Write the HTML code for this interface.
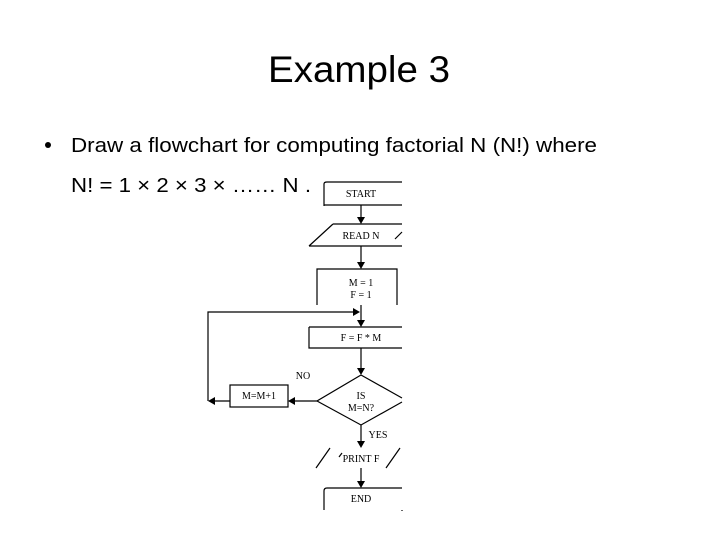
<!DOCTYPE html>
<html><head><style>
html,body{margin:0;padding:0;background:#fff;}
svg{display:block;}
</style></head><body>
<svg width="720" height="540" xmlns="http://www.w3.org/2000/svg">
<text x="359" y="82" font-family="Liberation Sans, sans-serif" font-size="37" text-anchor="middle" textLength="182" lengthAdjust="spacingAndGlyphs" fill="#000">Example 3</text>
<circle cx="48" cy="145" r="3" fill="#000"/>
<text x="71" y="152" font-family="Liberation Sans, sans-serif" font-size="20" textLength="526" lengthAdjust="spacingAndGlyphs" fill="#000">Draw a flowchart for computing factorial N (N!) where</text>
<text x="71" y="192" font-family="Liberation Sans, sans-serif" font-size="20" textLength="240" lengthAdjust="spacingAndGlyphs" fill="#000">N! = 1 × 2 × 3 × …… N .</text>
<g stroke="#000" stroke-width="1.2" fill="none">
<path d="M324 206 V184 Q324 182 327 182 H402"/><path d="M324 205 H402"/>
<path d="M333 224 H402 M309 246 H402 M309 246 L333 224 M402 232 L395 239"/>
<path d="M317 305 V269 H397 V305"/>
<path d="M309 327 V348 H402 M309 327 H402"/>
<path d="M361 375 L402 398 M361 375 L317 401 L361 425 L402 402"/>
<rect x="230" y="385" width="58" height="22"/>
<path d="M316 468 L330 448 M342 453 L339 457 M386 468 L400 448"/>
<path d="M324 510 V491 Q324 488 327 488 H402 M402 510 V511"/>
<path d="M361 205 V217 M361 246 V262 M361 305 V320 M361 348 V368 M361 425 V441 M361 468 V481"/>
<path d="M317 401 H295 M230 401 H215 M208 401 V312 H353"/>
</g>
<g fill="#000">
<polygon points="357,217 365,217 361,224"/>
<polygon points="357,262 365,262 361,269"/>
<polygon points="357,320 365,320 361,327"/>
<polygon points="357,368 365,368 361,375"/>
<polygon points="357,441 365,441 361,448"/>
<polygon points="357,481 365,481 361,488"/>
<polygon points="295,397 295,405 288,401"/>
<polygon points="215,397 215,405 208,401"/>
<polygon points="353,308 353,316 360,312"/>
</g>
<g font-family="Liberation Serif, serif" font-size="10" fill="#000" text-anchor="middle">
<text x="361" y="197">START</text>
<text x="361" y="239">READ N</text>
<text x="361" y="286">M = 1</text>
<text x="361" y="298">F = 1</text>
<text x="361" y="341">F = F * M</text>
<text x="361" y="399">IS</text>
<text x="361" y="411">M=N?</text>
<text x="259" y="399">M=M+1</text>
<text x="303" y="379">NO</text>
<text x="378" y="438">YES</text>
<text x="361" y="462">PRINT F</text>
<text x="361" y="502">END</text>
</g>
</svg>
</body></html>
